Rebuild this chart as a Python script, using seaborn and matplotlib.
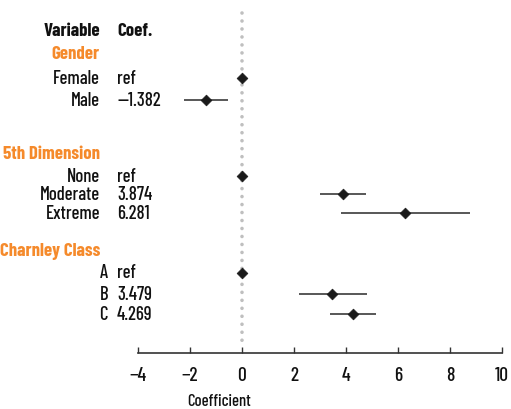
import matplotlib
matplotlib.use("Agg")
import matplotlib.pyplot as plt
import seaborn as sns
import pandas as pd

# Regression coefficients with 95% confidence intervals
groups = ["Gender", "5th Dimension", "Charnley Class"]
levels = [["Female", "Male"],
          ["None", "Moderate", "Extreme"],
          ["A", "B", "C"]]
coef_text = [["ref", "\u20141.382"],
             ["ref", "3.874", "6.281"],
             ["ref", "3.479", "4.269"]]
coef = [[0.0, -1.382],
        [0.0, 3.874, 6.281],
        [0.0, 3.479, 4.269]]
ci_low = [[None, -2.22],
          [None, 3.00, 3.81],
          [None, 2.19, 3.38]]
ci_high = [[None, -0.54],
           [None, 4.78, 8.78],
           [None, 4.81, 5.16]]
x_ticks = [-4, -2, 0, 2, 4, 6, 8, 10]
x_label = "Coefficient"

# vertical layout (rows measured from the top of the panel)
header_row = 30
group_rows = [53, 153, 250]
level_rows = [[78, 100], [176, 194, 213], [273, 294, 314]]
level_right = [100, 100, 108]
text_shift = 1.5

sns.set_theme(style="white")
plt.rcParams["font.family"] = ["Barlow Condensed", "DejaVu Sans"]

rows = []
for g, levs, cs, lo, hi, ys in zip(groups, levels, coef, ci_low, ci_high, level_rows):
    for lv, c, l, h, y in zip(levs, cs, lo, hi, ys):
        rows.append(dict(group=g, level=lv, coef=c, lo=l, hi=h, row=y))
df = pd.DataFrame(rows)

W, H = 511, 409
fig = plt.figure(figsize=(W / 100, H / 100), dpi=100)
ax_left, ax_right, ax_bottom = 138, 502, 353
ax = fig.add_axes([ax_left / W, (H - ax_bottom) / H, (ax_right - ax_left) / W, ax_bottom / H])
ax.set_xlim(-4, 10)
ax.set_ylim(ax_bottom, 0)

# reference line at zero
ax.plot([0, 0], [13, 342], color="#bfbfbf", lw=2.6,
        linestyle=(0, (0.01, 2.2)), dash_capstyle="round", zorder=1)

ci = df.dropna(subset=["lo"])
ax.hlines(ci["row"], ci["lo"], ci["hi"], color="#4a4a4a", lw=1.3, zorder=2)
sns.scatterplot(data=df, x="coef", y="row", marker="D", s=30, color="#1a1a1a",
                edgecolor="#1a1a1a", linewidth=0.5, ax=ax, zorder=3, legend=False)

for side in ["top", "right", "left"]:
    ax.spines[side].set_visible(False)
ax.spines["bottom"].set_color("#333333")
ax.spines["bottom"].set_linewidth(1.2)
ax.set_xticks(x_ticks)
ax.set_xticklabels([str(t).replace("-", "\u2212") for t in x_ticks], fontsize=14,
                   color="#111111", fontweight="medium")
ax.tick_params(axis="x", direction="in", length=4, width=1, color="#333333", pad=10, bottom=True)
ax.set_yticks([])
ax.set_xlabel("")
ax.set_ylabel("")

def fx(px):
    return px / W

def fy(py):
    return 1 - (py + text_shift) / H

fig.text(fx(219), fy(400), x_label, ha="center", va="center", fontsize=12,
         fontweight="medium", color="#111111")

fs = 13.5
fig.text(fx(100), fy(header_row), "Variable", ha="right", va="center", fontsize=fs,
         fontweight="bold", color="#111111")
fig.text(fx(117), fy(header_row), "Coef.", ha="left", va="center", fontsize=fs,
         fontweight="bold", color="#111111")
orange = "#F58A2B"
for g, gy, levs, cts, ys, xr in zip(groups, group_rows, levels, coef_text, level_rows, level_right):
    fig.text(fx(100), fy(gy), g, ha="right", va="center", fontsize=fs, fontweight="bold", color=orange)
    for lv, ct, y in zip(levs, cts, ys):
        fig.text(fx(xr), fy(y - 1), lv, ha="right", va="center", fontsize=fs,
                 fontweight="medium", color="#111111")
        fig.text(fx(117), fy(y - 1), ct, ha="left", va="center", fontsize=fs,
                 fontweight="medium", color="#111111")

fig.savefig("out.png", dpi=100)
